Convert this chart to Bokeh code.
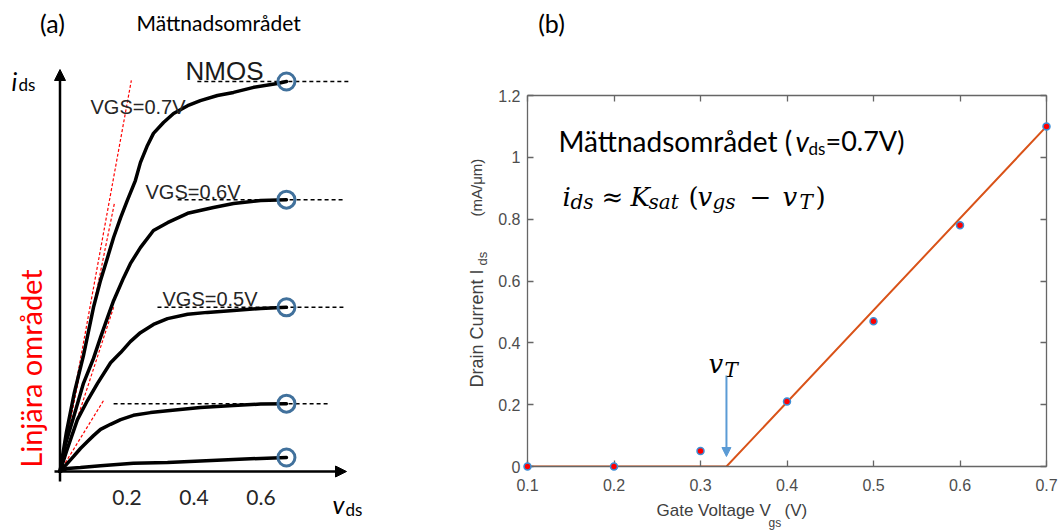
import math
from bokeh.plotting import figure
from bokeh.models import Range1d, LinearAxis, FixedTicker, Label, Arrow, NormalHead
from bokeh.layouts import row, column
from bokeh.embed import file_html
from bokeh.resources import INLINE

# ---------------- Panel (a): schematic NMOS output curves
vds_07 = [0, 0.019, 0.043, 0.070, 0.100, 0.121, 0.142, 0.160, 0.181, 0.201, 0.225, 0.240, 0.261, 0.279,
          0.309, 0.339, 0.381, 0.419, 0.470, 0.518, 0.578, 0.649, 0.676]
ids_07 = [0, 0.100, 0.203, 0.297, 0.421, 0.490, 0.549, 0.600, 0.651, 0.695, 0.746, 0.792, 0.836, 0.867,
          0.895, 0.918, 0.938, 0.951, 0.964, 0.972, 0.985, 0.995, 1.000]
vds_06 = [0, 0.016, 0.040, 0.070, 0.100, 0.121, 0.142, 0.160, 0.190, 0.210, 0.240, 0.279, 0.321, 0.381,
          0.458, 0.518, 0.599, 0.676]
ids_06 = [0, 0.069, 0.138, 0.226, 0.290, 0.344, 0.395, 0.438, 0.497, 0.533, 0.574, 0.618, 0.638, 0.662,
          0.677, 0.687, 0.695, 0.697]
vds_05 = [0, 0.019, 0.052, 0.082, 0.112, 0.151, 0.181, 0.210, 0.240, 0.279, 0.321, 0.381, 0.440, 0.518,
          0.599, 0.676]
ids_05 = [0, 0.051, 0.133, 0.182, 0.226, 0.279, 0.305, 0.333, 0.356, 0.377, 0.392, 0.403, 0.408, 0.413,
          0.418, 0.421]
vds_04 = [0, 0.022, 0.040, 0.061, 0.082, 0.100, 0.121, 0.151, 0.181, 0.219, 0.270, 0.321, 0.419, 0.518,
          0.599, 0.676]
ids_04 = [0, 0.021, 0.038, 0.059, 0.077, 0.092, 0.108, 0.121, 0.133, 0.144, 0.151, 0.156, 0.164, 0.169,
          0.173, 0.174]
vds_03 = [0, 0.022, 0.061, 0.121, 0.219, 0.321, 0.518, 0.676]
ids_03 = [0, 0.008, 0.010, 0.015, 0.021, 0.023, 0.031, 0.036]

curve_labels = ["VGS=0.7V", "VGS=0.6V", "VGS=0.5V"]
vds_ticks_a = [0.2, 0.4, 0.6]
tangent_end_vds = [0.213, 0.163, 0.160, 0.130]
tangent_end_ids = [1.003, 0.690, 0.421, 0.182]
sat_dash_start = [0.41, 0.351, 0.291, 0.16]
sat_dash_end = [0.861, 0.852, 0.846, 0.807]

# ---------------- Panel (b): drain current vs gate voltage
vgs = [0.1, 0.2, 0.3, 0.4, 0.5, 0.6, 0.7]
ids = [0.0, 0.0, 0.05, 0.21, 0.47, 0.78, 1.10]
fit_vgs = [0.1, 0.33, 0.7]
fit_ids = [0.0, 0.0, 1.10]
v_threshold = 0.33
x_ticks_b = [0.1, 0.2, 0.3, 0.4, 0.5, 0.6, 0.7]
y_ticks_b = [0, 0.2, 0.4, 0.6, 0.8, 1.0, 1.2]
y_tick_labels_b = ["0", "0.2", "0.4", "0.6", "0.8", "1", "1.2"]

W, H = 1063, 530
# ======================= Panel (a) =======================
A_W = 428
A_X0, A_Y0 = 59.5, 471.0      # page pixel of the origin
A_SX, A_SY = 335.0, 390.0     # pixels per unit
A_FB = 483                    # frame bottom (page px)

def ax(px):
    return (px - A_X0) / A_SX

def ay(py):
    return (A_Y0 - py) / A_SY

pa = figure(width=A_W, height=H, output_backend="svg", toolbar_location=None,
            x_range=Range1d(ax(0), ax(A_W)), y_range=Range1d(ay(A_FB), ay(0)),
            x_axis_location=None, y_axis_location=None,
            min_border_left=0, min_border_right=0, min_border_top=0,
            min_border_bottom=H - A_FB, frame_align=False)
pa.outline_line_color = None
pa.grid.visible = False

xa = LinearAxis(ticker=FixedTicker(ticks=vds_ticks_a, minor_ticks=[]),
                axis_line_color=None, major_tick_line_color=None, minor_tick_line_color=None,
                major_tick_in=0, major_tick_out=0,
                major_label_text_font="Lato", major_label_text_font_size="21px",
                major_label_text_color="#262626", major_label_standoff=6)
pa.add_layout(xa, "below")

# axis arrows
pa.add_layout(Arrow(end=NormalHead(size=11, fill_color="black", line_color="black"),
                    x_start=0, y_start=ay(481), x_end=0, y_end=ay(69),
                    line_width=2.5, line_color="black"))
pa.add_layout(Arrow(end=NormalHead(size=11, fill_color="black", line_color="black"),
                    x_start=ax(54), y_start=0, x_end=ax(346), y_end=0,
                    line_width=2.5, line_color="black"))

curves = [(vds_07, ids_07), (vds_06, ids_06), (vds_05, ids_05), (vds_04, ids_04), (vds_03, ids_03)]
pa.segment(x0=[0] * 4, y0=[0] * 4, x1=tangent_end_vds, y1=tangent_end_ids,
           line_color="red", line_width=1.2, line_dash="3 2")
levels = [c[1][-1] for c in curves[:4]]
pa.segment(x0=sat_dash_start, y0=levels, x1=sat_dash_end, y1=levels,
           line_color="black", line_width=1.5, line_dash="4 3")
for xs, ys in curves:
    pa.line(xs, ys, line_color="black", line_width=3.5, line_cap="round", line_join="round")
pa.scatter([c[0][-1] for c in curves], [c[1][-1] for c in curves], marker="circle",
           size=17, fill_color=None, line_color="#41719c", line_width=3)

# ======================= Panel (b) =======================
B_FL, B_FR, B_FT, B_FB = 527, 1046, 95, 466
pb = figure(frame_width=B_FR - B_FL, frame_height=B_FB - B_FT,
            output_backend="svg", toolbar_location=None,
            x_range=Range1d(0.1, 0.7), y_range=Range1d(0, 1.2),
            x_axis_location=None, y_axis_location=None,
            min_border_left=B_FL - A_W, min_border_right=W - B_FR,
            min_border_top=B_FT, min_border_bottom=H - B_FB, frame_align=False)
pb.outline_line_color = None
pb.grid.visible = False

def by(py):
    return (B_FB - py) / (B_FB - B_FT) * 1.2

AX_COL = "#666666"
overrides = {t: s for t, s in zip(y_ticks_b, y_tick_labels_b)}
for loc, ticks in [("below", x_ticks_b), ("above", x_ticks_b), ("left", y_ticks_b), ("right", y_ticks_b)]:
    show = loc in ("below", "left")
    a = LinearAxis(ticker=FixedTicker(ticks=ticks, minor_ticks=[]),
                   axis_line_color=AX_COL, axis_line_width=1.3,
                   major_tick_in=6, major_tick_out=0, major_tick_line_color=AX_COL,
                   major_tick_line_width=1.3, minor_tick_line_color=None,
                   major_label_text_font="Liberation Sans",
                   major_label_text_font_size="16px" if show else "1px",
                   major_label_text_color="#4d4d4d" if show else None,
                   major_label_standoff=(12 if loc == "below" else 7) if show else 0)
    if loc in ("left", "right"):
        a.major_label_overrides = overrides
    pb.add_layout(a, loc)

pb.line(fit_vgs, fit_ids, line_color="#D95319", line_width=2)
pb.scatter(vgs, ids, marker="circle", size=7, fill_color="red", line_color="#3d8fd6",
           line_width=1.5, level="overlay")
pb.add_layout(Arrow(end=NormalHead(size=9, fill_color="#5b9bd5", line_color="#5b9bd5"),
                    x_start=v_threshold, y_start=by(375), x_end=v_threshold, y_end=by(456),
                    line_width=2, line_color="#5b9bd5"))

# ======================= Text overlay (page pixel coordinates) =======================
pt = figure(width=W, height=H, output_backend="svg", toolbar_location=None,
            x_range=Range1d(0, W), y_range=Range1d(H, 0),
            x_axis_location=None, y_axis_location=None,
            min_border_left=0, min_border_right=0, min_border_top=0, min_border_bottom=0,
            frame_align=False, margin=(-H, 0, 0, 0))
pt.outline_line_color = None
pt.grid.visible = False
pt.background_fill_color = None
pt.border_fill_color = None

def lab(x, y, text, font="Lato", size=20, color="black", style="normal",
        align="left", baseline="middle", angle=0):
    pt.add_layout(Label(x=x, y=y, text=text, text_font=font, text_font_size=f"{size}px",
                        text_color=color, text_font_style=style, text_align=align,
                        text_baseline=baseline, angle=angle))

# panel (a) texts
lab(52, 22, "(a)", size=25, align="center")
lab(136, 22, "Mättnadsområdet", size=21)
lab(11, 80, "i", size=25, style="italic")
lab(18, 84, "ds", size=17)
lab(185, 70, "NMOS", font="Liberation Sans", size=26, color="#1a1a1a")
for t, (px, py) in zip(curve_labels, [(90, 106), (145, 191), (162, 298)]):
    lab(px, py, t, font="Liberation Sans", size=20, color="#262626")
lab(30, 368, "Linjära området", size=29, color="red", align="center", angle=math.pi / 2)
lab(332, 503, "v", size=25, style="italic")
lab(345, 509, "ds", size=17)

# panel (b) texts
lab(551, 22, "(b)", size=25, align="center")
lab(558, 140, "Mättnadsområdet (", size=28)
lab(795, 140, "v", size=28, style="italic")
lab(808, 148, "ds", size=17)
lab(825, 140, "=0.7V)", size=27)

SERIF = "DejaVu Serif"
MB, SB = 196, 201
formula = [("i", 562, MB, 26, "italic"), ("ds", 570, SB, 20, "italic"),
           ("≈", 601, MB, 26, "normal"), ("K", 630, MB, 26, "italic"),
           ("sat", 648, SB, 20, "italic"), ("(", 688, MB, 26, "normal"),
           ("v", 697, MB, 26, "italic"), ("gs", 712, SB, 20, "italic"),
           ("−", 749, MB, 26, "normal"), ("v", 782, MB, 26, "italic"),
           ("T", 799, SB, 20, "italic"), (")", 815, MB, 26, "normal")]
for t, px, py, s, st in formula:
    lab(px, py, t, font=SERIF, size=s, style=st, baseline="alphabetic")

lab(708, 363, "v", font=SERIF, size=26, style="italic", baseline="alphabetic")
lab(724, 369, "T", font=SERIF, size=20, style="italic", baseline="alphabetic")

GREY = "#404040"
lab(656, 510, "Gate Voltage V", font="Liberation Sans", size=17, color=GREY)
lab(768, 522, "gs", font="Liberation Sans", size=12, color=GREY)
lab(784, 510, "(V)", font="Liberation Sans", size=17, color=GREY)

lab(476, 387, "Drain Current I", font="Liberation Sans", size=18, color=GREY, angle=math.pi / 2)
lab(482, 265, "ds", font="Liberation Sans", size=13, color=GREY, angle=math.pi / 2)
lab(476, 216, "(mA/μm)", font="Liberation Sans", size=15, color=GREY, angle=math.pi / 2)

layout = column(row(pa, pb), pt)
open("out.html", "w").write(file_html(layout, INLINE))
